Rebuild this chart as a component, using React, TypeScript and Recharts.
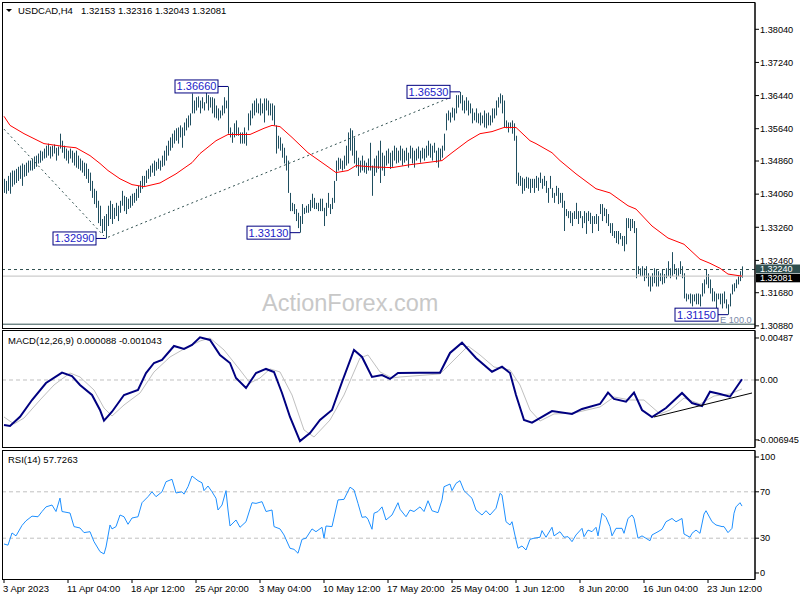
import React from 'react'
import {
  ComposedChart, Bar, Line, XAxis, YAxis, ReferenceLine, ReferenceDot
} from 'recharts'

const FONT = "'Liberation Sans', Arial, sans-serif"
const SLOTS = 376

// H4 bars, high / low (bar 0 = 3 Apr 2023 00:00)
const BAR_HIGH = [
  1.3443,1.3438,1.3450,1.3458,1.3463,1.3463,1.3467,1.3472,1.3475,1.3480,
  1.3477,1.3482,1.3487,1.3487,1.3492,1.3497,1.3499,1.3504,1.3511,1.3509,
  1.3516,1.3523,1.3528,1.3521,1.3523,1.3526,1.3518,1.3521,1.3552,1.3535,
  1.3523,1.3516,1.3511,1.3516,1.3511,1.3506,1.3511,1.3499,1.3492,1.3487,
  1.3482,1.3480,1.3467,1.3458,1.3438,1.3419,1.3414,1.3390,1.3378,1.3346,
  1.3353,1.3358,1.3378,1.3390,1.3382,1.3373,1.3385,1.3378,1.3390,1.3414,
  1.3402,1.3399,1.3395,1.3402,1.3407,1.3409,1.3419,1.3426,1.3438,1.3450,
  1.3450,1.3463,1.3467,1.3475,1.3480,1.3487,1.3484,1.3492,1.3487,1.3499,
  1.3511,1.3523,1.3535,1.3543,1.3552,1.3560,1.3565,1.3567,1.3572,1.3567,
  1.3579,1.3589,1.3596,1.3601,1.3649,1.3632,1.3640,1.3642,1.3632,1.3640,
  1.3628,1.3652,1.3645,1.3640,1.3640,1.3637,1.3620,1.3613,1.3608,1.3620,
  1.3640,1.3632,1.3666,1.3567,1.3555,1.3577,1.3584,1.3567,1.3555,1.3555,
  1.3567,1.3555,1.3601,1.3608,1.3625,1.3632,1.3637,1.3625,1.3637,1.3625,
  1.3637,1.3637,1.3632,1.3625,1.3625,1.3620,1.3572,1.3547,1.3543,1.3528,
  1.3518,1.3499,1.3487,1.3409,1.3385,1.3382,1.3370,1.3361,1.3353,1.3382,
  1.3373,1.3378,1.3382,1.3392,1.3407,1.3397,1.3385,1.3385,1.3395,1.3395,
  1.3373,1.3385,1.3409,1.3382,1.3397,1.3438,1.3487,1.3494,1.3492,1.3487,
  1.3499,1.3523,1.3555,1.3565,1.3560,1.3543,1.3511,1.3494,1.3487,1.3499,
  1.3487,1.3482,1.3492,1.3530,1.3475,1.3492,1.3499,1.3511,1.3535,1.3506,
  1.3499,1.3511,1.3516,1.3506,1.3511,1.3523,1.3518,1.3511,1.3523,1.3516,
  1.3511,1.3518,1.3506,1.3523,1.3518,1.3511,1.3516,1.3521,1.3511,1.3518,
  1.3516,1.3523,1.3535,1.3528,1.3523,1.3530,1.3511,1.3518,1.3516,1.3523,
  1.3552,1.3601,1.3608,1.3603,1.3615,1.3613,1.3645,1.3645,1.3653,1.3645,
  1.3632,1.3640,1.3632,1.3625,1.3613,1.3603,1.3613,1.3601,1.3603,1.3596,
  1.3608,1.3601,1.3603,1.3596,1.3613,1.3613,1.3632,1.3640,1.3649,1.3645,
  1.3632,1.3584,1.3579,1.3579,1.3584,1.3577,1.3547,1.3458,1.3450,1.3446,
  1.3443,1.3448,1.3446,1.3443,1.3443,1.3443,1.3450,1.3446,1.3458,1.3443,
  1.3450,1.3438,1.3421,1.3450,1.3421,1.3409,1.3426,1.3421,1.3409,1.3409,
  1.3390,1.3370,1.3365,1.3365,1.3361,1.3365,1.3385,1.3365,1.3365,1.3353,
  1.3365,1.3361,1.3365,1.3361,1.3353,1.3353,1.3358,1.3353,1.3382,1.3382,
  1.3373,1.3370,1.3358,1.3336,1.3336,1.3317,1.3317,1.3317,1.3312,1.3305,
  1.3305,1.3348,1.3348,1.3346,1.3346,1.3341,1.3324,1.3232,1.3227,1.3232,
  1.3227,1.3232,1.3215,1.3208,1.3215,1.3227,1.3225,1.3220,1.3215,1.3225,
  1.3213,1.3227,1.3244,1.3227,1.3266,1.3237,1.3227,1.3227,1.3244,1.3232,
  1.3215,1.3166,1.3164,1.3166,1.3164,1.3164,1.3166,1.3166,1.3164,1.3191,
  1.3200,1.3225,1.3213,1.3200,1.3179,1.3171,1.3166,1.3166,1.3166,1.3166,
  1.3171,1.3152,1.3140,1.3166,1.3188,1.3191,1.3200,1.3208,1.3220,1.32316,
]
const BAR_LOW = [
  1.3409,1.3407,1.3414,1.3407,1.3424,1.3429,1.3433,1.3438,1.3443,1.3426,
  1.3448,1.3450,1.3458,1.3463,1.3463,1.3467,1.3472,1.3480,1.3482,1.3487,
  1.3492,1.3494,1.3499,1.3492,1.3497,1.3504,1.3487,1.3499,1.3516,1.3506,
  1.3492,1.3487,1.3480,1.3492,1.3482,1.3475,1.3470,1.3467,1.3463,1.3458,
  1.3450,1.3443,1.3433,1.3414,1.3397,1.3382,1.3373,1.3336,1.3329,1.3312,
  1.3317,1.3299,1.3329,1.3346,1.3334,1.3346,1.3353,1.3341,1.3361,1.3378,
  1.3365,1.3358,1.3370,1.3373,1.3378,1.3385,1.3390,1.3397,1.3409,1.3419,
  1.3426,1.3433,1.3443,1.3448,1.3458,1.3450,1.3463,1.3467,1.3463,1.3472,
  1.3475,1.3487,1.3499,1.3511,1.3518,1.3528,1.3535,1.3528,1.3543,1.3518,
  1.3547,1.3560,1.3567,1.3572,1.3601,1.3601,1.3608,1.3615,1.3601,1.3613,
  1.3608,1.3625,1.3608,1.3615,1.3601,1.3591,1.3589,1.3584,1.3589,1.3596,
  1.3601,1.3613,1.3552,1.3543,1.3530,1.3543,1.3547,1.3547,1.3528,1.3528,
  1.3528,1.3523,1.3560,1.3572,1.3589,1.3596,1.3603,1.3601,1.3596,1.3601,
  1.3579,1.3608,1.3596,1.3596,1.3584,1.3572,1.3504,1.3516,1.3511,1.3494,
  1.3480,1.3463,1.3409,1.3365,1.3365,1.3358,1.3341,1.3324,1.3313,1.3334,
  1.3358,1.3361,1.3361,1.3365,1.3373,1.3370,1.3370,1.3365,1.3365,1.3365,
  1.3329,1.3353,1.3373,1.3358,1.3370,1.3385,1.3438,1.3463,1.3467,1.3463,
  1.3467,1.3475,1.3480,1.3511,1.3499,1.3480,1.3470,1.3450,1.3458,1.3463,
  1.3458,1.3455,1.3463,1.3463,1.3402,1.3450,1.3458,1.3467,1.3433,1.3463,
  1.3450,1.3475,1.3480,1.3467,1.3472,1.3487,1.3480,1.3482,1.3487,1.3475,
  1.3482,1.3487,1.3470,1.3492,1.3480,1.3470,1.3487,1.3492,1.3482,1.3492,
  1.3487,1.3494,1.3499,1.3494,1.3487,1.3506,1.3482,1.3470,1.3487,1.3494,
  1.3511,1.3560,1.3584,1.3579,1.3591,1.3584,1.3601,1.3615,1.3625,1.3608,
  1.3601,1.3608,1.3596,1.3601,1.3577,1.3584,1.3579,1.3577,1.3572,1.3577,
  1.3567,1.3565,1.3572,1.3572,1.3579,1.3589,1.3596,1.3615,1.3625,1.3601,
  1.3567,1.3565,1.3555,1.3565,1.3552,1.3535,1.3431,1.3426,1.3426,1.3407,
  1.3414,1.3421,1.3419,1.3409,1.3421,1.3409,1.3421,1.3414,1.3433,1.3419,
  1.3426,1.3409,1.3385,1.3419,1.3397,1.3385,1.3402,1.3382,1.3385,1.3373,
  1.3317,1.3353,1.3348,1.3336,1.3329,1.3346,1.3346,1.3334,1.3348,1.3324,
  1.3336,1.3310,1.3341,1.3334,1.3312,1.3334,1.3334,1.3317,1.3358,1.3341,
  1.3353,1.3336,1.3329,1.3312,1.3305,1.3300,1.3288,1.3285,1.3297,1.3281,
  1.3268,1.3285,1.3324,1.3317,1.3324,1.3312,1.3203,1.3213,1.3208,1.3208,
  1.3196,1.3203,1.3183,1.3171,1.3183,1.3191,1.3183,1.3183,1.3196,1.3188,
  1.3191,1.3203,1.3208,1.3203,1.3208,1.3213,1.3200,1.3208,1.3213,1.3203,
  1.3154,1.3147,1.3152,1.3142,1.3135,1.3147,1.3140,1.3140,1.3135,1.3159,
  1.3166,1.3188,1.3179,1.3166,1.3147,1.3147,1.3130,1.3152,1.3140,1.3130,
  1.3142,1.3130,1.3115,1.3135,1.3164,1.3171,1.3179,1.3188,1.3196,1.32043,
]

// red moving average, [bar, price]
const MA_PTS = [
  [0,1.3594],[3,1.3572],[10,1.3552],[20,1.3528],[30,1.3521],[36,1.3518],[43,1.3499],
  [48,1.3480],[52,1.3463],[58,1.3443],[64,1.3429],[70,1.3424],[78,1.3433],[86,1.3455],
  [94,1.3482],[98,1.3504],[106,1.3535],[112,1.3550],[123,1.3550],[130,1.3565],[134,1.3572],
  [138,1.3569],[144,1.3543],[152,1.3506],[162,1.3472],[166,1.3458],[172,1.3463],[176,1.3475],
  [183,1.3472],[194,1.3470],[203,1.3477],[219,1.3487],[224,1.3506],[232,1.3535],[238,1.3552],
  [244,1.3557],[250,1.3567],[256,1.3567],[263,1.3535],[266,1.3528],[274,1.3506],[278,1.3487],
  [286,1.3455],[296,1.3419],[303,1.3409],[312,1.3378],[316,1.3370],[324,1.3329],[332,1.3300],
  [340,1.3285],[348,1.3249],[353,1.3239],[358,1.3227],[362,1.3213],[369,1.3208],
]

// MACD(12,26,9) main and signal, [bar, value]
const MACD_PTS = [
  [0,-0.00522],[3,-0.00534],[8,-0.00426],[14,-0.00232],[21,-0.00035],[29,0.00085],[34,0.00046],
  [38,-0.00058],[44,-0.00174],[48,-0.00348],[50,-0.00472],[54,-0.00368],[60,-0.00174],[67,-0.00116],
  [71,0.00081],[75,0.00197],[79,0.00232],[85,0.00394],[90,0.0036],[94,0.00406],[98,0.00495],
  [103,0.00464],[108,0.0029],[113,0.00197],[116,0.00023],[121,-0.00093],[126,0.00081],[131,0.00128],
  [135,0.00093],[139,-0.00151],[143,-0.00429],[148,-0.00708],[153,-0.00615],[158,-0.00464],
  [164,-0.00348],[169,-0.00023],[175,0.00348],[179,0.00267],[184,0.00035],[189,0.00058],[193,0.00012],
  [197,0.00081],[208,0.00085],[218,0.00085],[223,0.00313],[229,0.00433],[236,0.00255],[244,0.00096],
  [249,0.00154],[253,0.00081],[256,-0.00174],[260,-0.00464],[264,-0.00495],[269,-0.00429],[274,-0.0036],
  [284,-0.00394],[289,-0.00336],[298,-0.00278],[302,-0.00147],[305,-0.0022],[311,-0.00252],[315,-0.00147],
  [319,-0.00348],[324,-0.00429],[331,-0.00325],[339,-0.00151],[344,-0.00267],[349,-0.00302],[353,-0.00136],
  [358,-0.00162],[363,-0.00194],[369,0.00009],
]
const SIGNAL_PTS = [
  [0,-0.00429],[5,-0.0051],[10,-0.00441],[18,-0.00232],[25,-0.00058],[33,0.00081],[38,0.00035],
  [45,-0.00116],[50,-0.00325],[54,-0.00418],[60,-0.0029],[68,-0.00151],[75,0.00093],[83,0.00267],
  [90,0.0036],[98,0.00452],[103,0.00487],[110,0.00348],[118,0.00116],[123,-0.00035],[128,0.00023],
  [133,0.00128],[138,0.00093],[144,-0.00174],[150,-0.0058],[155,-0.00661],[163,-0.00464],[170,-0.00174],
  [178,0.00255],[182,0.0029],[188,0.00093],[194,0.00023],[198,0.00035],[218,0.0007],[225,0.00232],
  [232,0.00394],[238,0.0029],[245,0.00151],[253,0.00116],[258,-0.00058],[263,-0.00348],[268,-0.00476],
  [275,-0.00394],[285,-0.00383],[298,-0.00313],[305,-0.00197],[313,-0.00232],[320,-0.00232],
  [328,-0.00394],[333,-0.00348],[340,-0.00209],[348,-0.00278],[355,-0.00186],[363,-0.00162],[369,-0.00104],
]

// RSI(14), [bar, value]
const RSI_PTS = [
  [0,25],[2,24],[4,34.5],[6,32],[9,41],[11,45],[14,49],[17,48.5],[19,53],[21,57],[24,58.6],[26,53],
  [28,64.6],[29,53],[33,51.7],[35,40],[38,38.8],[40,34.8],[43,35.6],[45,27],[48,18.4],[50,16.4],
  [51,22.4],[53,41.4],[54,38],[56,40],[58,50],[60,48.5],[62,42],[64,47.4],[67,48.5],[69,60.6],
  [72,65.8],[74,70],[76,65.8],[79,70],[81,78.7],[84,80.8],[86,69],[89,70],[90,68],[92,74.4],
  [94,83.6],[97,79.6],[99,77.8],[100,71],[102,75],[104,70],[106,64.4],[107,54.3],[109,58.6],
  [111,71],[112,54.3],[113,40.5],[116,45.7],[118,39.4],[121,44.2],[124,60.6],[126,60],[129,61.5],
  [131,53],[134,54.3],[135,40],[138,38],[140,32.8],[143,21.3],[145,20.4],[147,17],[149,29],[151,30],
  [154,38],[156,35.6],[159,39.4],[160,30],[161,40.5],[164,40],[167,63],[170,63.5],[173,74],
  [175,71.6],[177,60],[179,48],[181,48.5],[182,46.3],[184,37.7],[185,51.5],[187,53],[189,57],
  [191,45.7],[194,50],[197,60.6],[198,55],[201,48.5],[203,54.3],[205,53],[208,57],[210,53],
  [212,62.3],[214,53.7],[217,52],[219,63],[220,74.4],[223,76.7],[224,71],[226,77.3],[228,79.6],
  [230,71],[234,64.4],[236,54.3],[239,50],[241,53.7],[243,50],[246,55.8],[248,68.7],[249,67.2],
  [251,44.2],[253,41.4],[254,44.2],[256,28.4],[257,21.3],[259,23.3],[261,19.8],[263,29],[265,30],
  [268,30.8],[269,36.5],[271,30.8],[274,39.4],[275,32],[278,35.6],[280,30.8],[282,31.3],[284,27],
  [286,32.8],[289,38.5],[290,31.3],[292,37],[294,35.6],[296,39.4],[297,32],[299,51.5],[301,48],
  [303,40],[304,32],[306,38.5],[309,38.5],[310,34.2],[312,47],[314,50],[315,47],[317,30],[319,32],
  [323,27.8],[324,32.8],[327,35.6],[329,37.7],[331,44.2],[334,47],[336,44.2],[339,47],[340,33.6],
  [343,30.8],[344,34.2],[346,37],[348,34.2],[350,50.8],[351,53.7],[354,44.2],[356,41.4],[359,40],
  [360,40],[362,34.8],[364,38.5],[365,51.5],[366,57],[368,60.6],[369,57.7],
]

const PRICE_TICKS = [1.3088, 1.3168, 1.3246, 1.3326, 1.3406, 1.3486, 1.3564, 1.3644, 1.3724, 1.3804]
const MACD_TICKS = [-0.006945, 0, 0.00487]
const MACD_TICK_LABELS = ['-0.006945', '0.00', '0.00487']
const RSI_TICKS = [0, 30, 70, 100]
const DATE_TICKS = [0, 32, 64, 96, 128, 160, 192, 224, 256, 288, 320, 352]
const DATE_LABELS = [
  '3 Apr 2023', '11 Apr 04:00', '18 Apr 12:00', '25 Apr 20:00', '3 May 04:00', '10 May 12:00',
  '17 May 20:00', '25 May 04:00', '1 Jun 12:00', '8 Jun 20:00', '16 Jun 04:00', '23 Jun 12:00',
]

// swing labels [bar, price, text]
const SWING_LABELS: [number, number, string][] = [
  [112, 1.3666, '1.36660'],
  [51, 1.3299, '1.32990'],
  [148, 1.3313, '1.33130'],
  [228, 1.3653, '1.36530'],
  [362, 1.3115, '1.31150'],
]

const rows: any[] = Array.from({ length: SLOTS }, (_, i) => ({
  i,
  hl: i < BAR_HIGH.length ? [BAR_LOW[i], BAR_HIGH[i]] : null,
}))
MA_PTS.forEach(([i, v]) => { rows[i].ma = v })
MACD_PTS.forEach(([i, v]) => { rows[i].macd = v })
SIGNAL_PTS.forEach(([i, v]) => { rows[i].signal = v })
RSI_PTS.forEach(([i, v]) => { rows[i].rsi = v })

const AXIS_X = 755
const AXIS_FS = 9.2

const PriceBar = (p: any) => {
  if (p.height == null) return null
  const y = Math.min(p.y, p.y + p.height)
  const h = Math.max(Math.abs(p.height), 1)
  const cx = Math.floor(p.x + p.width / 2)
  return <rect x={cx} y={y} width={1} height={h} fill="#1f4e5f" />
}

const makeTick = (fmt: (v: number) => string) => (p: any) => {
  const s = fmt(p.payload.value)
  const tx = s.startsWith('-') ? AXIS_X + 2.5 : AXIS_X + 5
  return (
    <g>
      <line x1={AXIS_X} x2={AXIS_X + 4} y1={p.y} y2={p.y} stroke="#000" />
      <text x={tx} y={p.y} dy={3.3} fontSize={AXIS_FS} fontFamily={FONT} fill="#000">{s}</text>
    </g>
  )
}

// price tag on the right axis; dy0/dy1 = box extent around the line
const priceTag = (text: string, bg: string, dy0: number, dy1: number) => (props: any) => {
  const y = props.viewBox.y
  return (
    <g>
      <rect x={AXIS_X + 1} y={y + dy0} width={44} height={dy1 - dy0} fill={bg} />
      <text x={AXIS_X + 5} y={y + (dy0 + dy1) / 2} dy={3.1} fontSize={9} fontFamily={FONT} fill="#fff">{text}</text>
    </g>
  )
}

const swingFlag = (text: string) => (p: any) => {
  const { cx, cy } = p
  return (
    <g>
      <line x1={cx - 10} x2={cx} y1={cy} y2={cy} stroke="#000080" />
      <rect x={cx - 53} y={cy - 6.5} width={43} height={13} fill="#fff" stroke="#000080" />
      <text x={cx - 31.5} y={cy} dy={4} textAnchor="middle" fontSize={11} fontFamily={FONT} fill="#1c1cc8">
        {text}
      </text>
    </g>
  )
}

const DateTick = (p: any) => {
  const idx = DATE_TICKS.indexOf(p.payload.value)
  return (
    <g>
      <line x1={p.x} x2={p.x} y1={131} y2={135} stroke="#000" />
      <text x={p.x - 1} y={144} fontSize={9.5} fontFamily={FONT} fill="#000">{DATE_LABELS[idx]}</text>
    </g>
  )
}

export default function App() {
  return (
    <div style={{ position: 'relative', width: 800, height: 600, background: '#fff', fontFamily: FONT }}>
      <style>{'body{margin:0}'}</style>

      {/* price panel (svg taller than the plot so the lowest label is not clipped) */}
      <div style={{ position: 'absolute', left: 0, top: 0 }}>
        <ComposedChart width={800} height={336} data={rows} margin={{ top: 3, right: 0, bottom: 8, left: 3 }}>
          <XAxis dataKey="i" type="category" scale="band" hide />
          <YAxis
            orientation="right" width={45} domain={[1.30828, 1.38675]} allowDataOverflow
            ticks={PRICE_TICKS} interval={0} tick={makeTick(v => v.toFixed(5))}
            tickLine={false} axisLine={{ stroke: '#000' }}
          />
          <ReferenceLine y={1.3092} stroke="#2f4f4f" />
          <ReferenceLine y={1.3224} stroke="#2f4f4f" strokeDasharray="3 3" label={priceTag('1.32240', '#2f4f4f', -5, 3.8)} />
          <ReferenceLine y={1.32081} stroke="#c0c0c0" label={priceTag('1.32081', '#000', -2.2, 6.2)} />
          <ReferenceLine segment={[{ x: 0, y: 1.3563 }, { x: 50, y: 1.3305 }]} stroke="#2f4f4f" strokeDasharray="2 3" />
          <ReferenceLine segment={[{ x: 52, y: 1.3302 }, { x: 222, y: 1.3637 }]} stroke="#2f4f4f" strokeDasharray="2 3" />
          <Bar dataKey="hl" barSize={1} shape={PriceBar} isAnimationActive={false} />
          <Line dataKey="ma" type="linear" stroke="#ff0000" strokeWidth={1} dot={false} connectNulls isAnimationActive={false} />
          {SWING_LABELS.map(([i, v, t]) => (
            <ReferenceDot key={t} x={i} y={v} r={0} shape={swingFlag(t)} />
          ))}
        </ComposedChart>
      </div>

      {/* MACD panel */}
      <div style={{ position: 'absolute', left: 0, top: 328 }}>
        <ComposedChart width={800} height={120} data={rows} margin={{ top: 3, right: 0, bottom: 1, left: 3 }}>
          <XAxis dataKey="i" type="category" scale="band" hide />
          <YAxis
            orientation="right" width={45} domain={[-0.00777, 0.00568]} allowDataOverflow
            ticks={MACD_TICKS} interval={0}
            tick={makeTick(v => MACD_TICK_LABELS[MACD_TICKS.indexOf(v)])}
            tickLine={false} axisLine={{ stroke: '#000' }}
          />
          <ReferenceLine y={0} stroke="#c0c0c0" strokeDasharray="4 3" />
          <Line dataKey="signal" type="linear" stroke="#c0c0c0" strokeWidth={1} dot={false} connectNulls isAnimationActive={false} />
          <Line dataKey="macd" type="linear" stroke="#000080" strokeWidth={2} dot={false} connectNulls isAnimationActive={false} />
          <ReferenceLine segment={[{ x: 325, y: -0.00429 }, { x: 374, y: -0.00151 }]} stroke="#000" />
        </ComposedChart>
      </div>

      {/* RSI panel */}
      <div style={{ position: 'absolute', left: 0, top: 448 }}>
        <ComposedChart width={800} height={152} data={rows} margin={{ top: 3, right: 0, bottom: 0, left: 3 }}>
          <XAxis
            dataKey="i" type="category" scale="band" height={21}
            ticks={DATE_TICKS} interval={0} tick={DateTick} tickLine={false} axisLine={false}
          />
          <YAxis
            orientation="right" width={45} domain={[-5.2, 105.2]} allowDataOverflow
            ticks={RSI_TICKS} interval={0} tick={makeTick(v => String(v))}
            tickLine={false} axisLine={{ stroke: '#000' }}
          />
          <ReferenceLine y={70} stroke="#c0c0c0" strokeDasharray="4 3" />
          <ReferenceLine y={30} stroke="#c0c0c0" strokeDasharray="4 3" />
          <Line dataKey="rsi" type="linear" stroke="#1e90ff" strokeWidth={1} dot={false} connectNulls isAnimationActive={false} />
        </ComposedChart>
      </div>

      {/* frames and captions */}
      <svg width={800} height={600} style={{ position: 'absolute', left: 0, top: 0, pointerEvents: 'none' }}>
        <rect x={2.5} y={2.5} width={752.5} height={326} fill="none" stroke="#000" />
        <rect x={2.5} y={330.5} width={752.5} height={117} fill="none" stroke="#000" />
        <rect x={2.5} y={450.5} width={752.5} height={129} fill="none" stroke="#000" />
        <polygon points="6,9 12,9 9,12" fill="#000" />
        <text x={18} y={14} fontSize={9.5} fontFamily={FONT} fill="#000">USDCAD,H4</text>
        <text x={81} y={14} fontSize={9.5} fontFamily={FONT} fill="#000">1.32153 1.32316 1.32043 1.32081</text>
        <text x={262} y={311} fontSize={23.5} fontFamily={FONT} fill="#c8c8c8">ActionForex.com</text>
        <text x={720} y={323} fontSize={9.2} fontFamily={FONT} fill="#7a8aa8">E 100.0</text>
        <text x={8} y={344} fontSize={9.5} fontFamily={FONT} fill="#000">MACD(12,26,9) 0.000088 -0.001043</text>
        <text x={8} y={463} fontSize={9.5} fontFamily={FONT} fill="#000">RSI(14) 57.7263</text>
      </svg>
    </div>
  )
}
